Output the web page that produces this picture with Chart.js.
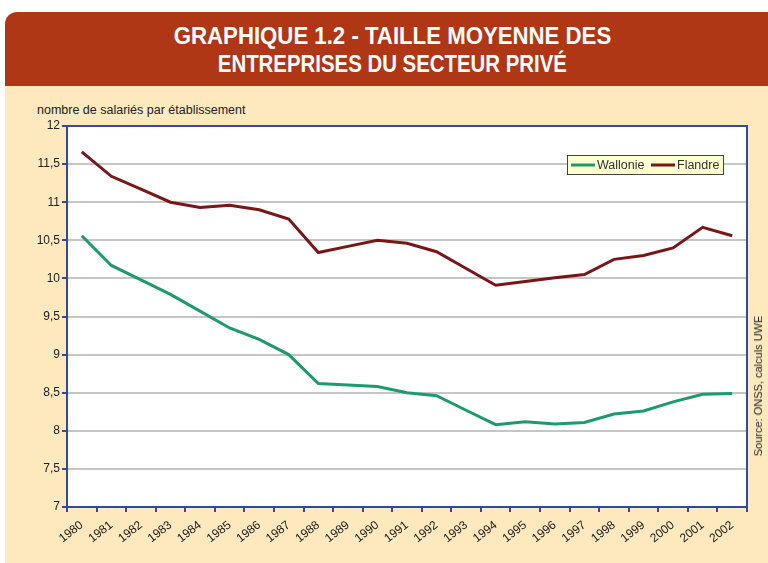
<!DOCTYPE html>
<html lang="fr">
<head>
<meta charset="utf-8">
<script src="https://cdn.jsdelivr.net/npm/chart.js@4"></script>
<style>
  html, body { margin: 0; padding: 0; background: #ffffff; }
  #page { position: relative; width: 768px; height: 563px; overflow: hidden; background: #ffffff; }
  #cream { position: absolute; left: 5px; top: 80px; right: 0; bottom: 0; background: #fde9bd; }
  #header { position: absolute; left: 5px; top: 12px; right: 0; height: 74px; background: #b03716; border-top-left-radius: 12px; }
  .tl { position: absolute; left: 0; width: 768px; text-align: center; color: #ffffff; white-space: nowrap;
        font-family: "Liberation Sans", Arial, sans-serif; font-weight: bold; font-size: 24px; line-height: 28px; }
  .tl span { display: inline-block; }
  #t1 { top: 22px; left: 8px; }
  #t1 span { transform: scaleX(0.925); }
  #t2 { top: 50px; left: 8px; }
  #t2 span { transform: scaleX(0.85); }
  #ytitle { position: absolute; left: 37px; top: 103px; font-family: "Liberation Sans", Arial, sans-serif; font-size: 12.5px; color: #222; white-space: nowrap; }
  #source { position: absolute; left: 758px; top: 386px; transform: translate(-50%, -50%) rotate(-90deg); font-family: "Liberation Sans", Arial, sans-serif; font-size: 11px; color: #222; white-space: nowrap; }
  canvas { position: absolute; left: 0; top: 0; }
</style>
</head>
<body>
<div id="page">
  <div id="cream"></div>
  <div id="header"></div>
  <div class="tl" id="t1"><span>GRAPHIQUE 1.2 - TAILLE MOYENNE DES</span></div>
  <div class="tl" id="t2"><span>ENTREPRISES DU SECTEUR PRIVÉ</span></div>
  <div id="ytitle">nombre de salariés par établissement</div>
  <canvas id="c" width="768" height="563"></canvas>
  <div id="source">Source: ONSS, calculs UWE</div>
</div>
<script>
const years = ['1980','1981','1982','1983','1984','1985','1986','1987','1988','1989','1990','1991',
               '1992','1993','1994','1995','1996','1997','1998','1999','2000','2001','2002'];
const wallonie = [10.56,10.17,9.98,9.79,9.57,9.35,9.20,9.00,8.62,8.60,8.58,8.50,
                  8.46,8.27,8.08,8.12,8.09,8.11,8.22,8.26,8.38,8.48,8.49];
const flandre  = [11.66,11.34,11.17,11.00,10.93,10.96,10.90,10.78,10.34,10.42,10.50,10.46,
                  10.35,10.13,9.91,9.96,10.01,10.05,10.25,10.30,10.40,10.67,10.56];
const seriesNames = ['Wallonie','Flandre'];
const yMin = 7, yMax = 12, yStep = 0.5;

const AXIS = '#2f4aa0';
const GRID = '#c6c6c6';
const FONT = { family: '"Liberation Sans", Arial, sans-serif', size: 12 };

const framePlugin = {
  id: 'frame',
  beforeDraw(chart) {
    const { ctx, chartArea: a } = chart;
    ctx.save();
    ctx.fillStyle = '#ffffff';
    ctx.fillRect(a.left, a.top, a.right - a.left, a.bottom - a.top);
    ctx.restore();
  },
  afterDraw(chart) {
    const { ctx, chartArea: a } = chart;
    ctx.save();
    ctx.strokeStyle = AXIS;
    ctx.lineWidth = 2;
    ctx.beginPath();
    ctx.moveTo(a.left, a.top); ctx.lineTo(a.right, a.top); ctx.lineTo(a.right, a.bottom);
    ctx.stroke();
    // legend
    const bx = 567, by = 155, bw = 156, bh = 19;
    ctx.fillStyle = '#ffffd2';
    ctx.fillRect(bx, by, bw, bh);
    ctx.strokeStyle = '#444';
    ctx.lineWidth = 1;
    ctx.strokeRect(bx + 0.5, by + 0.5, bw, bh);
    ctx.font = '12.5px "Liberation Sans", Arial, sans-serif';
    ctx.textBaseline = 'middle';
    const items = [{ x: 571 }, { x: 651 }];
    chart.data.datasets.forEach((ds, i) => {
      const x = items[i].x, y = by + bh / 2 + 0.5;
      ctx.strokeStyle = ds.borderColor;
      ctx.lineWidth = 3;
      ctx.beginPath(); ctx.moveTo(x, y); ctx.lineTo(x + 24, y); ctx.stroke();
      ctx.fillStyle = '#333';
      ctx.fillText(ds.label, x + 26, y + 1);
    });
    ctx.restore();
  }
};

new Chart(document.getElementById('c'), {
  type: 'line',
  data: {
    labels: years,
    datasets: [
      { label: seriesNames[0], data: wallonie, borderColor: '#1f9a70', borderWidth: 3, pointRadius: 0, tension: 0, fill: false },
      { label: seriesNames[1], data: flandre, borderColor: '#7a1618', borderWidth: 3, pointRadius: 0, tension: 0, fill: false }
    ]
  },
  options: {
    responsive: false,
    animation: false,
    devicePixelRatio: 1,
    layout: { padding: { top: 126, right: 21, left: 0, bottom: 0 } },
    plugins: { legend: { display: false }, title: { display: false }, tooltip: { enabled: false } },
    scales: {
      x: {
        type: 'category',
        offset: true,
        grid: { display: true, offset: true, drawOnChartArea: false, drawTicks: true, tickLength: 5, color: AXIS, lineWidth: 2 },
        border: { display: true, color: AXIS, width: 2 },
        ticks: { autoSkip: false, minRotation: 38, maxRotation: 38, font: FONT, color: '#222', padding: 6 },
        afterFit(s) { s.height = 56; }
      },
      y: {
        min: yMin, max: yMax,
        grid: { color: GRID, lineWidth: 2, drawTicks: true, tickLength: 5, tickColor: AXIS, tickWidth: 2 },
        border: { display: true, color: AXIS, width: 2 },
        ticks: { stepSize: yStep, font: FONT, color: '#222', padding: 2,
                 callback: v => String(v).replace('.', ',') },
        afterFit(s) { s.width = 67; }
      }
    }
  },
  plugins: [framePlugin]
});
</script>
</body>
</html>
